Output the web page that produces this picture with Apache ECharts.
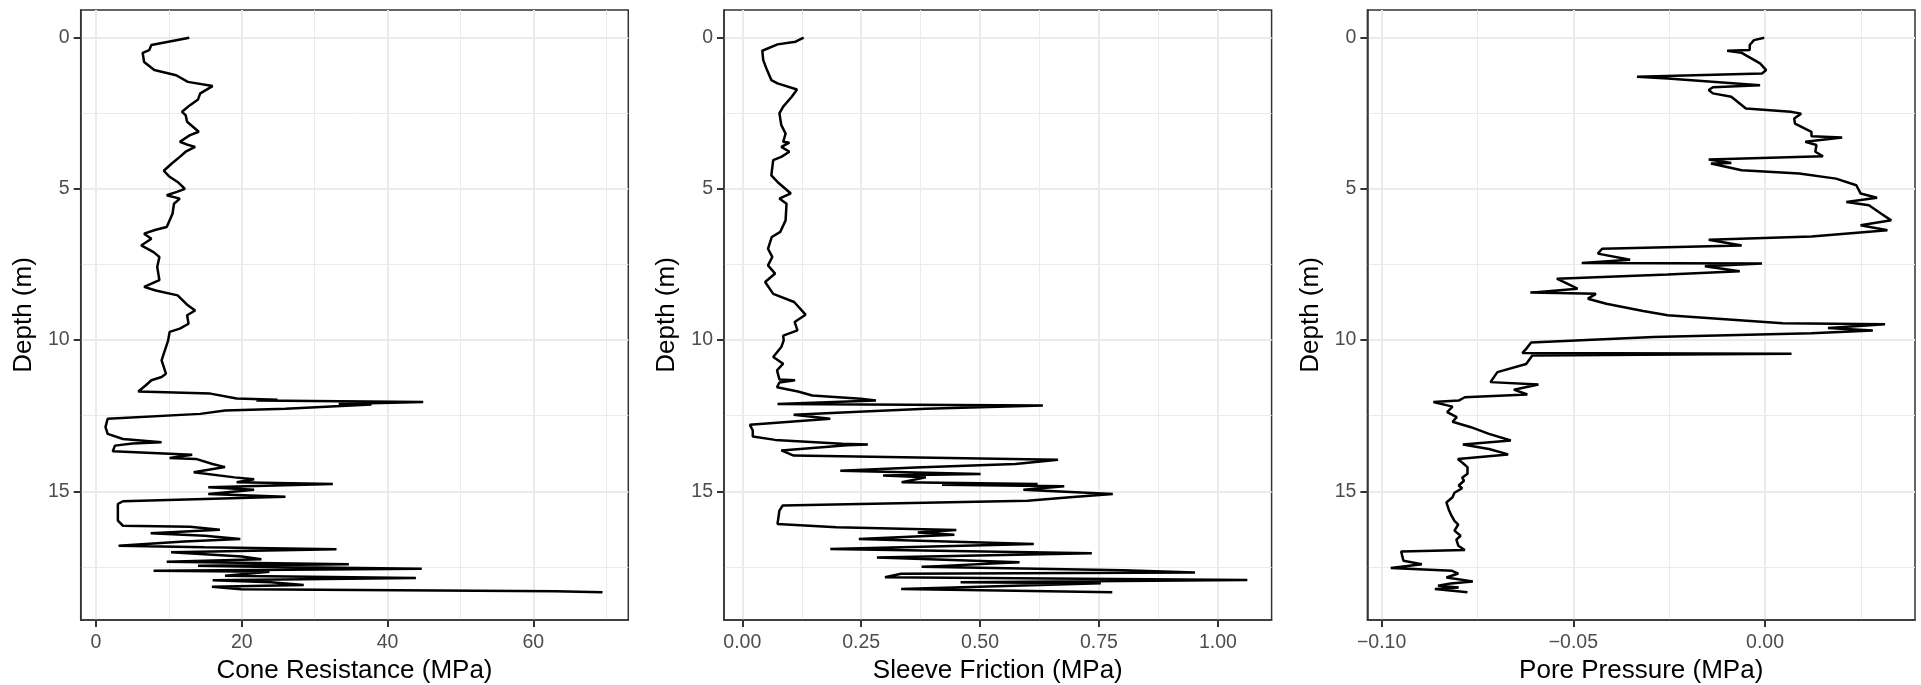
<!DOCTYPE html>
<html><head><meta charset="utf-8">
<script src="https://cdn.jsdelivr.net/npm/echarts@6/dist/echarts.min.js"></script>
<style>html,body{margin:0;padding:0;background:#fff}#c{width:1921px;height:685px}</style>
</head><body><div id="c"></div>
<script>
// ---------- DATA ----------
const coneDepth = [0.00,0.24,0.41,0.50,0.80,1.07,1.24,1.46,1.60,1.84,2.04,2.23,2.45,2.56,2.78,3.11,3.22,3.44,3.55,3.61,3.77,3.94,4.16,4.40,4.58,4.77,5.00,5.10,5.21,5.32,5.49,5.82,6.26,6.35,6.48,6.65,6.87,7.09,7.25,7.58,8.02,8.24,8.36,8.52,8.85,9.02,9.18,9.46,9.62,9.73,10.01,10.23,10.45,10.67,11.11,11.22,11.33,11.50,11.70,11.77,11.93,11.97,12.00,12.05,12.11,12.13,12.27,12.33,12.44,12.60,12.88,13.10,13.27,13.38,13.42,13.49,13.68,13.79,13.90,13.93,14.10,14.20,14.37,14.54,14.60,14.70,14.76,14.87,14.95,15.09,15.18,15.33,15.42,15.97,16.14,16.17,16.27,16.39,16.47,16.58,16.66,16.80,16.85,16.92,17.02,17.08,17.16,17.25,17.33,17.41,17.46,17.50,17.56,17.63,17.66,17.79,17.87,17.94,18.01,18.10,18.16,18.24,18.31,18.34];
const coneQc = [12.8,7.6,7.3,6.4,6.6,8.0,11.0,12.6,16.0,14.3,14.0,12.9,11.8,12.3,12.5,14.1,12.9,11.5,12.7,13.6,12.3,11.5,10.4,9.3,10.0,11.2,12.2,11.1,9.7,11.5,10.7,10.5,9.7,8.2,6.6,7.6,6.2,7.9,8.7,8.4,8.7,6.6,8.2,11.2,12.6,13.6,12.5,12.7,11.5,10.1,9.9,9.6,9.3,9.0,9.6,9.0,7.6,6.8,5.8,15.7,19.3,24.9,22.0,44.9,33.3,37.8,26.0,17.7,14.3,1.6,1.3,1.6,3.7,9.0,5.0,2.6,2.3,13.2,10.1,13.7,16.0,17.7,13.4,19.0,21.7,19.3,32.5,15.4,21.7,15.4,26.0,3.7,3.0,3.0,3.7,12.9,17.0,7.5,14.9,19.8,12.1,3.1,14.9,33.0,10.3,14.9,20.0,22.7,9.7,34.7,14.0,22.0,44.7,7.9,23.8,17.7,43.9,16.0,24.0,28.5,15.9,19.9,63.0,69.5];

const sleeveDepth = [0.00,0.13,0.22,0.43,0.74,1.07,1.40,1.51,1.71,1.95,2.28,2.50,2.89,3.17,3.44,3.47,3.61,3.77,3.94,4.05,4.55,4.77,5.15,5.32,5.49,6.04,6.42,6.59,6.98,7.25,7.53,7.80,8.08,8.47,8.74,9.16,9.40,9.68,9.85,10.01,10.23,10.56,10.78,11.00,11.30,11.33,11.40,11.56,11.70,11.83,11.94,12.00,12.11,12.16,12.27,12.36,12.47,12.60,12.80,12.99,13.19,13.30,13.43,13.45,13.48,13.65,13.82,13.96,14.10,14.21,14.32,14.43,14.48,14.54,14.70,14.76,14.78,14.83,14.95,15.09,15.20,15.31,15.47,15.64,16.08,16.19,16.28,16.36,16.44,16.58,16.74,16.91,17.05,17.19,17.35,17.50,17.61,17.69,17.73,17.84,17.93,18.01,18.04,18.23,18.34];
const sleeveFs = [0.129,0.112,0.074,0.042,0.044,0.052,0.061,0.074,0.115,0.104,0.086,0.078,0.082,0.091,0.086,0.099,0.082,0.099,0.082,0.065,0.061,0.074,0.102,0.078,0.093,0.091,0.080,0.062,0.054,0.063,0.054,0.069,0.048,0.065,0.109,0.133,0.110,0.116,0.086,0.087,0.082,0.065,0.086,0.073,0.078,0.111,0.078,0.073,0.117,0.147,0.249,0.281,0.074,0.632,0.386,0.256,0.108,0.185,0.016,0.022,0.022,0.069,0.210,0.264,0.220,0.082,0.108,0.664,0.574,0.364,0.206,0.501,0.296,0.386,0.335,0.621,0.420,0.677,0.591,0.779,0.689,0.600,0.085,0.078,0.074,0.198,0.450,0.369,0.446,0.245,0.613,0.185,0.735,0.283,0.583,0.377,0.801,0.952,0.334,0.300,1.062,0.459,0.754,0.334,0.778];

const poreDepth = [0.00,0.08,0.24,0.41,0.43,0.50,0.85,1.07,1.18,1.29,1.35,1.57,1.64,1.73,1.84,1.95,2.34,2.45,2.51,2.67,2.84,3.11,3.26,3.30,3.44,3.55,3.77,3.92,4.03,4.14,4.16,4.38,4.49,4.66,4.88,5.15,5.29,5.43,5.54,5.82,6.04,6.20,6.37,6.57,6.68,6.87,6.98,7.14,7.34,7.45,7.47,7.56,7.72,7.83,7.97,8.30,8.43,8.47,8.63,8.80,9.04,9.18,9.44,9.48,9.60,9.68,9.77,9.90,10.08,10.29,10.43,10.45,10.51,10.79,11.06,11.39,11.47,11.64,11.80,11.89,12.00,12.05,12.20,12.38,12.55,12.70,12.88,13.10,13.32,13.45,13.60,13.78,13.93,14.05,14.20,14.42,14.55,14.65,14.81,14.90,15.05,15.20,15.37,15.60,15.80,15.98,16.10,16.30,16.47,16.60,16.80,16.94,16.99,17.30,17.41,17.54,17.63,17.72,17.85,17.98,18.05,18.12,18.18,18.23,18.34];
const poreU = [-0.0002,-0.0029,-0.0040,-0.0040,-0.0099,-0.0061,-0.0013,0.0003,-0.0008,-0.0334,-0.0254,-0.0013,-0.0136,-0.0147,-0.0136,-0.0088,-0.0050,0.0067,0.0094,0.0076,0.0078,0.0121,0.0121,0.0201,0.0105,0.0134,0.0131,0.0151,-0.0147,-0.0088,-0.0141,-0.0061,0.0089,0.0185,0.0238,0.0249,0.0292,0.0212,0.0271,0.0303,0.0329,0.0249,0.0319,0.0121,-0.0147,-0.0061,-0.0425,-0.0436,-0.0352,-0.0478,-0.0008,-0.0157,-0.0066,-0.0254,-0.0543,-0.0489,-0.0612,-0.0441,-0.0462,-0.0414,-0.0318,-0.0254,0.0046,0.0313,0.0164,0.0281,0.0121,-0.0291,-0.0610,-0.0623,-0.0633,0.0069,-0.0607,-0.0623,-0.0698,-0.0716,-0.0591,-0.0655,-0.0620,-0.0783,-0.0799,-0.0865,-0.0815,-0.0829,-0.0804,-0.0815,-0.0767,-0.0720,-0.0663,-0.0788,-0.0720,-0.0670,-0.0801,-0.0790,-0.0776,-0.0776,-0.0790,-0.0785,-0.0799,-0.0790,-0.0810,-0.0815,-0.0831,-0.0825,-0.0818,-0.0810,-0.0800,-0.0810,-0.0794,-0.0805,-0.0800,-0.0783,-0.0949,-0.0943,-0.0895,-0.0976,-0.0816,-0.0800,-0.0831,-0.0762,-0.0820,-0.0853,-0.0799,-0.0861,-0.0776];

const depthTicks = [0, 5, 10, 15];
const depthMinor = [2.5, 7.5, 12.5, 17.5];
const coneTicks = [0, 20, 40, 60];
const coneMinor = [10, 30, 50, 70];
const sleeveTicks = [0, 0.25, 0.5, 0.75, 1];
const sleeveMinor = [0.125, 0.375, 0.625, 0.875];
const poreTicks = [-0.1, -0.05, 0];
const poreMinor = [-0.075, -0.025, 0.025];

const depthTitle = 'Depth (m)';
const xTitles = ['Cone Resistance (MPa)', 'Sleeve Friction (MPa)', 'Pore Pressure (MPa)'];

// ---------- LAYOUT / STYLE ----------
const FONT = '"Liberation Sans", Arial, Helvetica, sans-serif';
const GRID_TOP = 10, GRID_W = 547.6, GRID_H = 610;
const gridLefts = [80.7, 724, 1367.4];
const depthRange = [-0.917, 19.257];

function zip(xs, ys) { return xs.map((x, i) => [x, ys[i]]); }
const fmtCone = v => String(v);
const fmt2 = v => {
  const s = Math.abs(v) < 1e-12 ? '0.00' : v.toFixed(2);
  return s.replace('-', '\u2212');
};

const panels = [
  { data: zip(coneQc, coneDepth), ticks: coneTicks, minor: coneMinor, min: -2.10, max: 73.04, fmt: fmtCone },
  { data: zip(sleeveFs, sleeveDepth), ticks: sleeveTicks, minor: sleeveMinor, min: -0.0385, max: 1.113, fmt: fmt2 },
  { data: zip(poreU, poreDepth), ticks: poreTicks, minor: poreMinor, min: -0.1037, max: 0.0391, fmt: fmt2 }
];

const mainGrids = [], minorGrids = [];
const xMain = [], yMain = [], xMinor = [], yMinor = [], series = [];
const N = panels.length;
panels.forEach((p, i) => {
  mainGrids.push({
    left: gridLefts[i], top: GRID_TOP, width: GRID_W, height: GRID_H,
    show: true, borderColor: '#333333', borderWidth: 1.5,
    containLabel: false, outerBoundsMode: 'none'
  });
  minorGrids.push({
    left: gridLefts[i], top: GRID_TOP, width: GRID_W, height: GRID_H,
    show: false, containLabel: false, outerBoundsMode: 'none'
  });
  xMain.push({
    type: 'value', gridIndex: i, min: p.min, max: p.max, position: 'bottom',
    axisLine: { show: true, onZero: false, lineStyle: { color: '#333333', width: 1.5 } },
    axisTick: { show: true, customValues: p.ticks, length: 7, lineStyle: { color: '#333333', width: 2 } },
    axisLabel: { show: true, customValues: p.ticks, formatter: p.fmt, fontSize: 19.5, color: '#4D4D4D', margin: 13, fontFamily: FONT },
    splitLine: { show: true, lineStyle: { color: '#EBEBEB', width: 2 } },
    name: xTitles[i], nameLocation: 'middle', nameGap: 37,
    nameTextStyle: { fontSize: 26, color: '#000000', fontFamily: FONT }
  });
  yMain.push({
    type: 'value', gridIndex: i, min: depthRange[0], max: depthRange[1], inverse: true, position: 'left',
    axisLine: { show: true, onZero: false, lineStyle: { color: '#333333', width: 1.5 } },
    axisTick: { show: true, customValues: depthTicks, length: 7, lineStyle: { color: '#333333', width: 2 } },
    axisLabel: { show: true, customValues: depthTicks, fontSize: 19.5, color: '#4D4D4D', margin: 11, fontFamily: FONT },
    splitLine: { show: true, lineStyle: { color: '#EBEBEB', width: 2 } },
    name: depthTitle, nameLocation: 'middle', nameRotate: 90, nameGap: 44,
    nameTextStyle: { fontSize: 26, color: '#000000', fontFamily: FONT }
  });
  xMinor.push({
    type: 'value', gridIndex: N + i, min: p.min, max: p.max, position: 'bottom',
    axisLine: { show: false, onZero: false },
    axisTick: { show: false, customValues: p.minor },
    axisLabel: { show: false, customValues: p.minor },
    splitLine: { show: true, lineStyle: { color: '#EBEBEB', width: 1 } }
  });
  yMinor.push({
    type: 'value', gridIndex: N + i, min: depthRange[0], max: depthRange[1], inverse: true, position: 'left',
    axisLine: { show: false, onZero: false },
    axisTick: { show: false, customValues: depthMinor },
    axisLabel: { show: false, customValues: depthMinor },
    splitLine: { show: true, lineStyle: { color: '#EBEBEB', width: 1 } }
  });
  series.push({
    type: 'line', xAxisIndex: i, yAxisIndex: i, data: p.data,
    showSymbol: false, symbol: 'none', clip: true,
    lineStyle: { color: '#000000', width: 2.5 }, z: 5
  });
});

const chart = echarts.init(document.getElementById('c'), null, { renderer: 'canvas' });
chart.setOption({
  animation: false,
  backgroundColor: '#ffffff',
  textStyle: { fontFamily: FONT },
  grid: mainGrids.concat(minorGrids),
  xAxis: xMain.concat(xMinor),
  yAxis: yMain.concat(yMinor),
  series: series
});
</script>
</body></html>
